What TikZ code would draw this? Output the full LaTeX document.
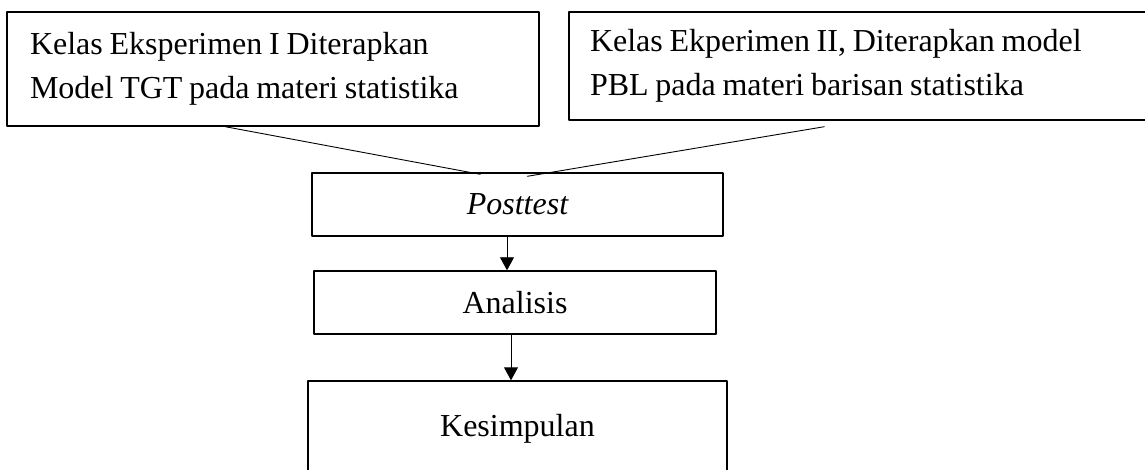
\documentclass[tikz,border=0pt]{standalone}
\usepackage{fontspec}
\setmainfont{Liberation Serif}
\usetikzlibrary{arrows.meta,calc}

\begin{document}
\begin{tikzpicture}[line cap=round,line join=round,>={Triangle[length=13pt,width=14pt]},x=1pt,y=-1pt,
  kotak/.style={draw,line width=1.4pt,inner sep=0pt,font=\fontsize{32}{44}\selectfont,
    execute at begin node={\spaceskip=0.21em\relax}},
  garis/.style={line width=0.9pt}]
\useasboundingbox (0,0) rectangle (1145,470);
\clip (0,0) rectangle (1145,470);
\node[kotak,minimum width=532,minimum height=114,text width=486,align=left] (k1) at (273,69) {Kelas Eksperimen I Diterapkan\\Model TGT pada materi statistika};
\node[kotak,minimum width=596,minimum height=108,text width=554,align=left] (k2) at (867,66) {Kelas Ekperimen II, Diterapkan model\\PBL pada materi barisan statistika};
\node[kotak,minimum width=411,minimum height=63] (post) at (517.5,204.5) {\itshape Posttest};
\node[kotak,minimum width=402,minimum height=63] (ana) at (515,302.5) {Analisis};
\node[kotak,minimum width=419,minimum height=96] (kes) at (517.5,429) {Kesimpulan};
\draw[garis] ($(k1.south west)+(219,0)$) -- ($(post.north west)+(169,2)$);
\draw[garis] ($(k2.south west)+(256,6)$) -- ($(post.north west)+(216,4)$);
\draw[garis,->] ($(post.south)+(-10.5,0)$) -- ($(ana.north)+(-8,0)$);
\draw[garis,->] ($(ana.south)+(-4,0)$) -- ($(kes.north)+(-6.5,0)$);
\end{tikzpicture}
\end{document}
